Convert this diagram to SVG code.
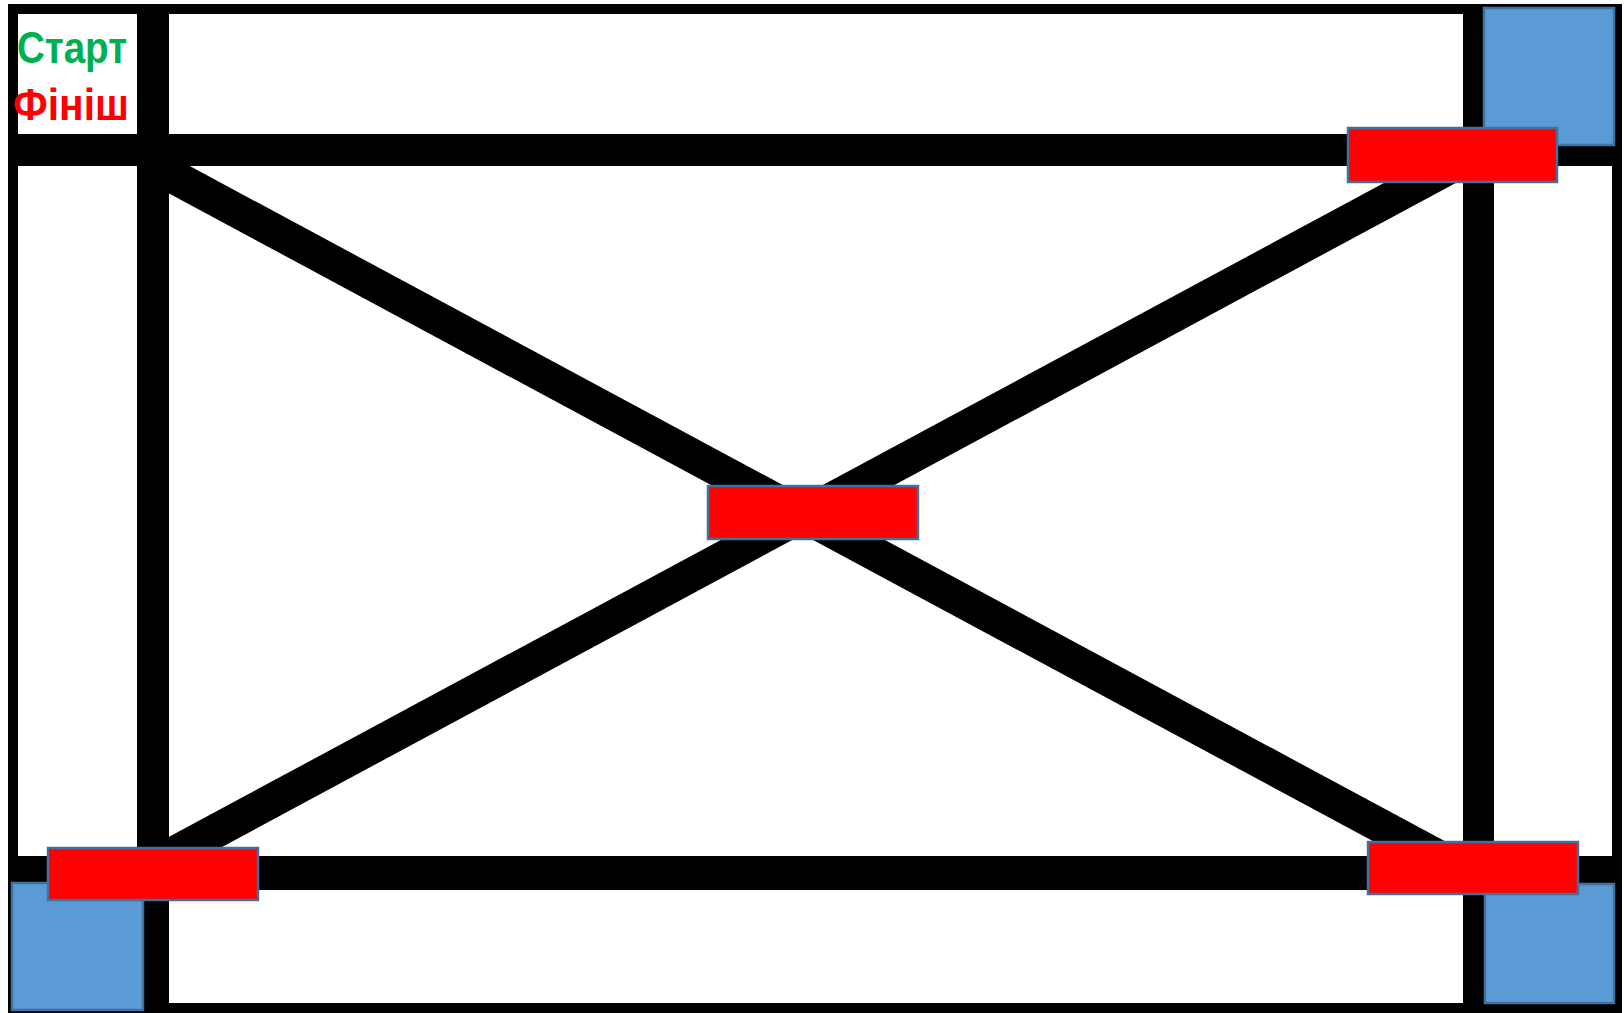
<svg xmlns="http://www.w3.org/2000/svg" width="1624" height="1013" viewBox="0 0 1624 1013">
  <style>
    .bar { fill: #000000; }
    .diag { stroke: #000000; stroke-width: 34; fill: none; stroke-linecap: butt; }
    .zone { fill: #5B9BD5; stroke: #41719C; stroke-width: 2.5; }
    .gate { fill: #FF0000; stroke: #41719C; stroke-width: 2.5; }
    .lbl { font-family: "Liberation Sans", Arial, sans-serif; font-weight: bold; font-size: 44px; }
  </style>
  <rect x="0" y="0" width="1624" height="1013" fill="#ffffff"/>
  <g id="track">
    <rect x="13" y="9" width="1604" height="999" fill="none" stroke="#000000" stroke-width="10"/>
    <rect class="bar" x="137" y="4" width="32" height="1009"/>
    <rect class="bar" x="1463" y="4" width="31" height="1009"/>
    <rect class="bar" x="8" y="134" width="1614" height="32"/>
    <rect class="bar" x="8" y="856" width="1614" height="34"/>
  </g>
  <g id="connectors">
    <line class="diag" x1="152" y1="165" x2="1470" y2="874"/>
    <line class="diag" x1="160" y1="861" x2="1470" y2="156"/>
  </g>
  <g id="labels">
    <text class="lbl" x="17" y="63" fill="#00B050" textLength="110" lengthAdjust="spacingAndGlyphs">Старт</text>
    <text class="lbl" x="13" y="120" fill="#FF0000" textLength="116" lengthAdjust="spacingAndGlyphs">Фініш</text>
  </g>
  <g id="zone-top-right"><rect class="zone" x="1484" y="8" width="130" height="137"/></g>
  <g id="zone-bottom-left"><rect class="zone" x="12" y="883" width="131" height="127"/></g>
  <g id="zone-bottom-right"><rect class="zone" x="1485" y="884" width="129" height="119"/></g>
  <g id="gate-top-right"><rect class="gate" x="1348" y="128" width="209" height="54"/></g>
  <g id="gate-center"><rect class="gate" x="708" y="486" width="210" height="53"/></g>
  <g id="gate-bottom-left"><rect class="gate" x="48" y="848" width="210" height="52"/></g>
  <g id="gate-bottom-right"><rect class="gate" x="1368" y="842" width="210" height="52"/></g>
</svg>
